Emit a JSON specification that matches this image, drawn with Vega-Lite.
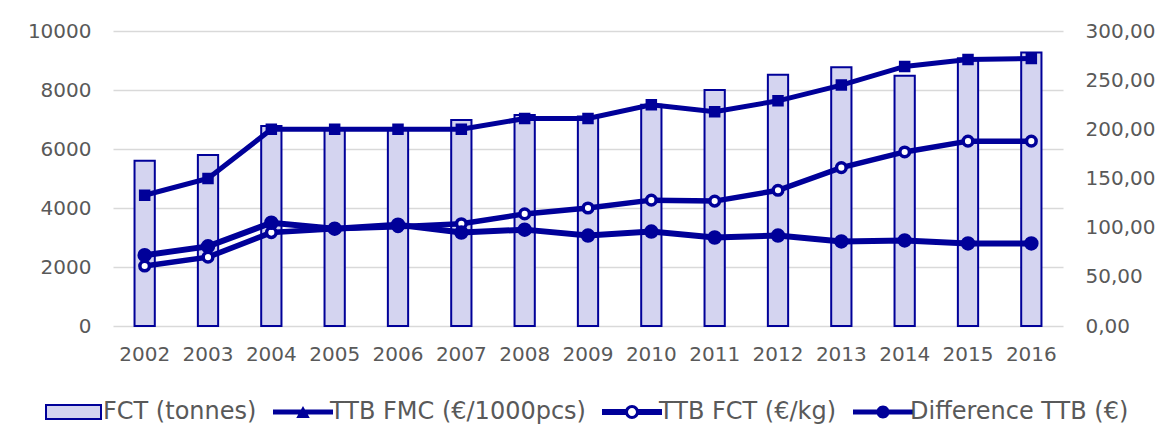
{
  "$schema": "https://vega.github.io/schema/vega-lite/v6.json",
  "autosize": "none",
  "width": 950,
  "height": 295,
  "padding": {"left": 113, "top": 31, "right": 106, "bottom": 104},
  "background": "#ffffff",
  "title": {
    "text": "Scale)",
    "anchor": "start",
    "frame": "group",
    "orient": "top",
    "dx": -113,
    "offset": 11,
    "baseline": "alphabetic",
    "font": "DejaVu Sans",
    "fontWeight": "bold",
    "fontSize": 24,
    "color": "#000000"
  },
  "config": {
    "view": {"stroke": null},
    "font": "DejaVu Sans",
    "axis": {
      "labelFont": "DejaVu Sans",
      "labelFontSize": 20,
      "labelColor": "#595959",
      "domain": false,
      "ticks": false,
      "title": null,
      "gridColor": "#d9d9d9",
      "gridWidth": 1.3
    }
  },
  "datasets": {
    "bars": [
      {"year": "2002", "FCT": 5600},
      {"year": "2003", "FCT": 5800},
      {"year": "2004", "FCT": 6780},
      {"year": "2005", "FCT": 6700},
      {"year": "2006", "FCT": 6700},
      {"year": "2007", "FCT": 6980},
      {"year": "2008", "FCT": 7150},
      {"year": "2009", "FCT": 7100},
      {"year": "2010", "FCT": 7500},
      {"year": "2011", "FCT": 8000},
      {"year": "2012", "FCT": 8520},
      {"year": "2013", "FCT": 8770},
      {"year": "2014", "FCT": 8480},
      {"year": "2015", "FCT": 9080},
      {"year": "2016", "FCT": 9270}
    ],
    "lines": [
      {"year": "2002", "series": "TTB FMC (€/1000pcs)", "value": 133},
      {"year": "2003", "series": "TTB FMC (€/1000pcs)", "value": 150},
      {"year": "2004", "series": "TTB FMC (€/1000pcs)", "value": 200},
      {"year": "2005", "series": "TTB FMC (€/1000pcs)", "value": 200},
      {"year": "2006", "series": "TTB FMC (€/1000pcs)", "value": 200},
      {"year": "2007", "series": "TTB FMC (€/1000pcs)", "value": 200},
      {"year": "2008", "series": "TTB FMC (€/1000pcs)", "value": 211},
      {"year": "2009", "series": "TTB FMC (€/1000pcs)", "value": 211},
      {"year": "2010", "series": "TTB FMC (€/1000pcs)", "value": 225},
      {"year": "2011", "series": "TTB FMC (€/1000pcs)", "value": 218},
      {"year": "2012", "series": "TTB FMC (€/1000pcs)", "value": 229},
      {"year": "2013", "series": "TTB FMC (€/1000pcs)", "value": 245},
      {"year": "2014", "series": "TTB FMC (€/1000pcs)", "value": 264},
      {"year": "2015", "series": "TTB FMC (€/1000pcs)", "value": 271},
      {"year": "2016", "series": "TTB FMC (€/1000pcs)", "value": 272},
      {"year": "2002", "series": "TTB FCT (€/kg)", "value": 61},
      {"year": "2003", "series": "TTB FCT (€/kg)", "value": 70},
      {"year": "2004", "series": "TTB FCT (€/kg)", "value": 95},
      {"year": "2005", "series": "TTB FCT (€/kg)", "value": 99},
      {"year": "2006", "series": "TTB FCT (€/kg)", "value": 101},
      {"year": "2007", "series": "TTB FCT (€/kg)", "value": 104},
      {"year": "2008", "series": "TTB FCT (€/kg)", "value": 114},
      {"year": "2009", "series": "TTB FCT (€/kg)", "value": 120},
      {"year": "2010", "series": "TTB FCT (€/kg)", "value": 128},
      {"year": "2011", "series": "TTB FCT (€/kg)", "value": 127},
      {"year": "2012", "series": "TTB FCT (€/kg)", "value": 138},
      {"year": "2013", "series": "TTB FCT (€/kg)", "value": 161},
      {"year": "2014", "series": "TTB FCT (€/kg)", "value": 177},
      {"year": "2015", "series": "TTB FCT (€/kg)", "value": 188},
      {"year": "2016", "series": "TTB FCT (€/kg)", "value": 188},
      {"year": "2002", "series": "Difference TTB (€)", "value": 72},
      {"year": "2003", "series": "Difference TTB (€)", "value": 81},
      {"year": "2004", "series": "Difference TTB (€)", "value": 105},
      {"year": "2005", "series": "Difference TTB (€)", "value": 99},
      {"year": "2006", "series": "Difference TTB (€)", "value": 103},
      {"year": "2007", "series": "Difference TTB (€)", "value": 95},
      {"year": "2008", "series": "Difference TTB (€)", "value": 98},
      {"year": "2009", "series": "Difference TTB (€)", "value": 92},
      {"year": "2010", "series": "Difference TTB (€)", "value": 96},
      {"year": "2011", "series": "Difference TTB (€)", "value": 90},
      {"year": "2012", "series": "Difference TTB (€)", "value": 92},
      {"year": "2013", "series": "Difference TTB (€)", "value": 86},
      {"year": "2014", "series": "Difference TTB (€)", "value": 87},
      {"year": "2015", "series": "Difference TTB (€)", "value": 84},
      {"year": "2016", "series": "Difference TTB (€)", "value": 84}
    ]
  },
  "layer": [
    {
      "data": {"name": "bars"},
      "mark": {"type": "bar", "fill": "#d4d4f0", "stroke": "#000099", "strokeWidth": 2, "width": {"band": 0.32}},
      "encoding": {
        "x": {
          "field": "year", "type": "ordinal", "title": null,
          "scale": {"paddingInner": 0, "paddingOuter": 0},
          "axis": {"labelAngle": 0, "labelPadding": 18, "grid": false}
        },
        "y": {
          "field": "FCT", "type": "quantitative", "title": null,
          "scale": {"domain": [0, 10000], "nice": false},
          "axis": {"orient": "left", "values": [0, 2000, 4000, 6000, 8000, 10000], "grid": true, "labelPadding": 22, "format": "d"}
        }
      }
    },
    {
      "data": {"name": "lines"},
      "layer": [
        {
          "mark": {"type": "line", "color": "#000099"},
          "encoding": {
            "x": {"field": "year", "type": "ordinal", "title": null},
            "y": {
              "field": "value", "type": "quantitative", "title": null,
              "scale": {"domain": [0, 300], "nice": false},
              "axis": {"orient": "right", "values": [0, 50, 100, 150, 200, 250, 300], "grid": false, "labelPadding": 22,
                       "labelExpr": "replace(format(datum.value, '.2f'), '.', ',')"}
            },
            "detail": {"field": "series"},
            "strokeWidth": {
              "field": "series", "legend": null,
              "scale": {"domain": ["TTB FMC (€/1000pcs)", "TTB FCT (€/kg)", "Difference TTB (€)"], "range": [5, 6, 5]}
            }
          }
        },
        {
          "mark": {"type": "point", "filled": true, "stroke": "#000099", "strokeWidth": 3.5},
          "encoding": {
            "x": {"field": "year", "type": "ordinal", "title": null},
            "y": {"field": "value", "type": "quantitative", "title": null},
            "fill": {
              "field": "series", "legend": null,
              "scale": {"domain": ["TTB FMC (€/1000pcs)", "TTB FCT (€/kg)", "Difference TTB (€)"], "range": ["#000099", "#ffffff", "#000099"]}
            },
            "size": {
              "field": "series", "legend": null,
              "scale": {"domain": ["TTB FMC (€/1000pcs)", "TTB FCT (€/kg)", "Difference TTB (€)"], "range": [64, 121, 100]}
            },
            "shape": {
              "field": "series", "legend": null,
              "scale": {"domain": ["TTB FMC (€/1000pcs)", "TTB FCT (€/kg)", "Difference TTB (€)"], "range": ["square", "circle", "circle"]}
            },
            "opacity": {
              "field": "series", "type": "ordinal",
              "scale": {"domain": ["FCT (tonnes)", "TTB FMC (€/1000pcs)", "TTB FCT (€/kg)", "Difference TTB (€)"], "range": [1, 1, 1, 1]},
              "legend": {
                "title": null,
                "orient": "none",
                "legendX": -64,
                "legendY": 369,
                "direction": "horizontal",
                "columns": 4,
                "padding": 0,
                "symbolSize": 900,
                "symbolType": {"expr": "datum.value === 'FCT (tonnes)' ? 'M-1,-0.467H2.667V0.467H-1Z' : datum.value === 'TTB FMC (€/1000pcs)' ? 'M-1,-0.167H3V0.167H-1Z M0.55,0.4L1,-0.4L1.45,0.4Z' : datum.value === 'TTB FCT (€/kg)' ? 'M-1,-0.2H0.65V0.2H-1Z M1.35,-0.2H3V0.2H1.35Z M1.467,0A0.467,0.467 0 1,1 0.533,0A0.467,0.467 0 1,1 1.467,0Z M1.267,0A0.267,0.267 0 1,0 0.733,0A0.267,0.267 0 1,0 1.267,0Z' : 'M-1,-0.167H3V0.167H-1Z M1.433,0A0.433,0.433 0 1,1 0.567,0A0.433,0.433 0 1,1 1.433,0Z'"},
                "symbolFillColor": {"expr": "datum.value === 'FCT (tonnes)' ? '#d4d4f0' : '#000099'"},
                "symbolStrokeColor": "#000099",
                "symbolStrokeWidth": {"expr": "datum.value === 'FCT (tonnes)' ? 2 : 0"},
                "labelFont": "DejaVu Sans",
                "labelFontSize": 24,
                "labelColor": "#595959",
                "labelOffset": 30,
                "labelLimit": 500,
                "columnPadding": 16
              }
            }
          }
        }
      ]
    }
  ],
  "resolve": {"scale": {"y": "independent"}}
}
